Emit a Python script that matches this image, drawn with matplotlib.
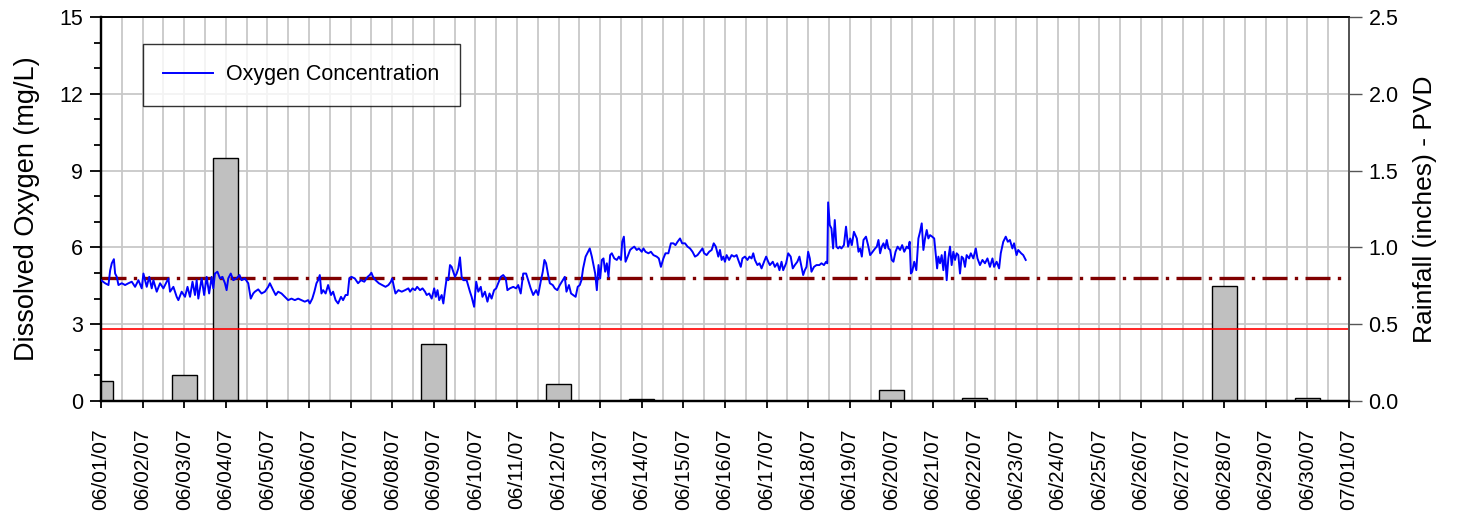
# dissolved oxygen vs rainfall, June 2007
import pandas as pd
import matplotlib
matplotlib.use('Agg')
import matplotlib.pyplot as plt
import matplotlib.dates as mdates
from matplotlib.ticker import MultipleLocator, FormatStrFormatter

plt.rcParams['font.family'] = ['Liberation Sans', 'DejaVu Sans']

start = pd.Timestamp('2007-06-01')

# daily rainfall at PVD (inches)
rain_dates = ['2007-06-01', '2007-06-03', '2007-06-04', '2007-06-09', '2007-06-12',
              '2007-06-14', '2007-06-20', '2007-06-22', '2007-06-28', '2007-06-30']
rain_in = [0.13, 0.17, 1.58, 0.37, 0.11, 0.01, 0.07, 0.02, 0.75, 0.02]

# oxygen record: days after 06/01/07 00:00 and concentration (mg/L)
do_days = [
    0.00, 0.10, 0.18, 0.22, 0.26, 0.31, 0.34, 0.38, 0.42, 0.50, 0.58, 0.66, 0.74, 0.82, 0.90, 0.98,
    1.02, 1.10, 1.16, 1.22, 1.26, 1.34, 1.42, 1.50, 1.58, 1.62, 1.66, 1.74, 1.82, 1.86, 1.94, 2.02,
    2.08, 2.14, 2.20, 2.26, 2.30, 2.34, 2.42, 2.48, 2.54, 2.60, 2.66, 2.70, 2.74, 2.80, 2.86, 2.92,
    2.98, 3.02, 3.06, 3.12, 3.18, 3.26, 3.33, 3.38, 3.46, 3.54, 3.60, 3.66,
    3.70, 3.78, 3.86, 3.94, 4.02, 4.06, 4.14, 4.20, 4.26, 4.34, 4.42, 4.50, 4.58, 4.66, 4.74, 4.82,
    4.90, 4.98, 5.02, 5.08, 5.13, 5.18, 5.22, 5.26, 5.30, 5.34, 5.40, 5.46, 5.53, 5.58, 5.64, 5.70,
    5.77, 5.82, 5.88, 5.93, 5.97, 6.02, 6.10, 6.18, 6.25, 6.33, 6.41, 6.46, 6.50, 6.54, 6.60, 6.68,
    6.76, 6.84, 6.91, 6.97, 7.00, 7.05, 7.08, 7.15, 7.23, 7.31, 7.39,
    7.43, 7.49, 7.55, 7.60, 7.67, 7.73, 7.79, 7.83, 7.89, 7.95, 8.01, 8.05, 8.09, 8.13, 8.19, 8.23,
    8.27, 8.31, 8.35, 8.39, 8.43, 8.47, 8.51, 8.55, 8.59, 8.63, 8.67, 8.71, 8.79, 8.87, 8.91, 8.97,
    9.02, 9.07, 9.13, 9.17, 9.23, 9.29, 9.34, 9.39, 9.45, 9.50, 9.55, 9.61, 9.67, 9.73, 9.77, 9.83,
    9.91, 9.98, 10.03, 10.09, 10.15, 10.22, 10.27, 10.33, 10.39, 10.46, 10.51, 10.57, 10.62, 10.66,
    10.70, 10.75, 10.79, 10.86, 10.91, 10.97, 11.03, 11.10,
    11.15, 11.19, 11.25, 11.30, 11.35, 11.41, 11.46, 11.51, 11.55, 11.59, 11.65, 11.71, 11.75, 11.80,
    11.84, 11.88, 11.92, 11.96, 12.00, 12.04, 12.08, 12.12, 12.16, 12.20, 12.24, 12.28, 12.34, 12.40,
    12.45, 12.50, 12.53, 12.57, 12.61, 12.66, 12.72, 12.76, 12.82, 12.88, 12.93, 13.00, 13.04, 13.09,
    13.16, 13.22, 13.28, 13.36, 13.41, 13.46, 13.52, 13.57, 13.64, 13.70, 13.76, 13.81, 13.86, 13.92,
    13.97, 14.04, 14.10, 14.16, 14.22, 14.28, 14.34, 14.40, 14.46, 14.50, 14.56, 14.62, 14.68, 14.73,
    14.78, 14.84,
    14.88, 14.92, 14.96, 15.00, 15.04, 15.10, 15.16, 15.22, 15.28, 15.32, 15.38, 15.42, 15.48, 15.54,
    15.59, 15.64, 15.68, 15.72, 15.78, 15.83, 15.88, 15.94, 15.99, 16.04, 16.08, 16.15, 16.20, 16.26,
    16.31, 16.36, 16.40, 16.47, 16.52, 16.58, 16.63, 16.68, 16.74, 16.79, 16.84, 16.88, 16.92, 16.96,
    17.00, 17.04, 17.08, 17.14, 17.20, 17.27, 17.32, 17.38, 17.43, 17.46, 17.48, 17.52, 17.56, 17.60,
    17.64, 17.68, 17.72, 17.76, 17.80, 17.86, 17.91, 17.96, 18.01, 18.05, 18.10, 18.17, 18.21, 18.25,
    18.29, 18.33, 18.39, 18.44, 18.49, 18.55,
    18.61, 18.65, 18.69, 18.73, 18.77, 18.81, 18.85, 18.89, 18.93, 18.97, 19.01, 19.05, 19.10, 19.15,
    19.21, 19.26, 19.31, 19.37, 19.41, 19.44, 19.47, 19.50, 19.55, 19.60, 19.65, 19.69, 19.73, 19.77,
    19.81, 19.85, 19.89, 19.93, 19.98, 20.03, 20.06, 20.10, 20.13, 20.17, 20.21, 20.25, 20.29, 20.33,
    20.37, 20.41, 20.45, 20.49, 20.53, 20.57, 20.61, 20.65, 20.69, 20.73, 20.77, 20.81, 20.87, 20.91,
    20.97, 21.03, 21.07, 21.13, 21.19, 21.25, 21.31, 21.37, 21.43, 21.47, 21.53, 21.59, 21.63, 21.69,
    21.75, 21.80, 21.85, 21.91, 21.95, 22.01, 22.05, 22.12, 22.17, 22.23,
]
do_mgl = [
    4.72, 4.60, 4.53, 5.10, 5.38, 5.54, 4.98, 4.85, 4.53, 4.60, 4.53, 4.60, 4.66, 4.46, 4.72, 4.40,
    4.98, 4.46, 4.85, 4.40, 4.72, 4.27, 4.60, 4.40, 4.66, 4.79, 4.27, 4.46, 4.07, 3.94, 4.27, 4.07,
    4.46, 4.07, 4.66, 4.14, 4.72, 4.00, 4.79, 4.14, 4.85, 4.20, 4.85, 4.40, 4.98, 5.05, 4.79, 4.85,
    4.60, 4.33, 4.79, 4.98, 4.72, 4.79, 4.92, 4.72, 4.79, 4.60, 4.00, 4.20,
    4.27, 4.36, 4.20, 4.27, 4.46, 4.60, 4.33, 4.14, 4.27, 4.20, 4.07, 3.94, 4.00, 3.94, 4.00, 3.94,
    3.88, 3.94, 3.81, 4.00, 4.27, 4.60, 4.72, 4.92, 4.20, 4.33, 4.20, 4.53, 4.14, 4.27, 3.94, 3.81,
    4.07, 3.94, 4.14, 4.14, 4.79, 4.85, 4.79, 4.60, 4.72, 4.66, 4.85, 4.92, 5.01, 4.85, 4.72, 4.60,
    4.53, 4.46, 4.53, 4.66, 4.79, 4.40, 4.20, 4.33, 4.27, 4.33, 4.40,
    4.27, 4.40, 4.33, 4.46, 4.33, 4.40, 4.27, 4.14, 4.20, 4.00, 4.40, 4.07, 4.33, 3.94, 4.14, 3.81,
    4.33, 4.79, 4.72, 5.31, 5.24, 5.05, 4.85, 4.98, 5.18, 5.61, 4.85, 4.72, 4.72, 4.27, 4.07, 3.68,
    4.66, 4.27, 4.46, 4.07, 4.27, 3.88, 4.20, 4.00, 4.33, 4.40, 4.60, 4.85, 4.92, 4.79, 4.33, 4.40,
    4.46, 4.40, 4.53, 4.20, 4.98, 4.98, 4.72, 4.40, 4.14, 4.33, 4.14, 4.66, 5.05, 5.51,
    5.38, 4.92, 4.60, 4.53, 4.40, 4.33, 4.53, 4.72,
    4.85, 4.27, 4.53, 4.20, 4.14, 4.07, 4.46, 4.53, 4.72, 5.18, 5.64, 5.83, 5.96, 5.64,
    5.31, 4.98, 4.33, 5.31, 4.79, 5.51, 5.57, 5.05, 5.38, 4.85, 5.70, 5.77, 5.57, 5.51,
    5.64, 5.51, 6.22, 6.42, 5.44, 5.64, 5.90, 5.96, 6.03, 5.90, 5.96, 5.83, 5.96, 5.83,
    5.77, 5.83, 5.70, 5.64, 5.57, 5.24, 5.57, 5.77, 5.77, 6.16, 6.16, 6.09, 6.22, 6.35,
    6.16, 6.16, 6.03, 5.96, 5.83, 5.64, 5.70, 5.83, 5.96, 5.77, 5.70, 5.83, 5.90, 6.16,
    6.03, 5.64,
    5.90, 5.51, 5.64, 5.44, 5.70, 5.51, 5.70, 5.64, 5.70, 5.51, 5.24, 5.57, 5.64, 5.51,
    5.64, 5.57, 5.77, 5.51, 5.31, 5.38, 5.18, 5.44, 5.64, 5.44, 5.31, 5.44, 5.24, 5.38,
    5.11, 5.44, 5.11, 5.38, 5.77, 5.64, 5.18, 5.31, 5.44, 5.64, 5.24, 4.92, 5.11, 5.24,
    5.83, 5.57, 5.05, 5.24, 5.31, 5.31, 5.38, 5.31, 5.44, 5.38, 7.76, 6.87, 6.74, 5.96,
    7.07, 6.03, 5.96, 6.03, 5.96, 6.09, 6.81, 6.03, 6.35, 6.09, 6.61, 6.35, 5.83, 5.96,
    5.64, 6.29, 6.42, 6.09, 5.70, 5.83,
    5.96, 6.03, 6.29, 5.77, 6.03, 6.16, 5.96, 6.29, 5.96, 5.90, 5.51, 5.44, 5.83, 6.03,
    5.90, 6.09, 5.83, 6.03, 5.96, 6.22, 4.98, 5.05, 5.44, 5.11, 6.35, 6.61, 6.94, 5.90,
    6.35, 6.68, 6.35, 6.48, 6.42, 6.35, 5.83, 5.18, 5.64, 5.38, 5.70, 5.11, 5.83, 4.72,
    5.57, 6.03, 5.31, 5.83, 5.51, 5.77, 5.70, 4.98, 5.64, 5.57, 5.24, 5.70, 5.57, 5.77,
    5.57, 5.96, 5.57, 5.31, 5.51, 5.38, 5.57, 5.24, 5.57, 5.24, 5.44, 5.18, 5.77, 6.22,
    6.42, 6.22, 6.29, 5.96, 6.16, 5.70, 5.90, 5.77, 5.70, 5.51,
]

# water quality criteria (mg/L)
chronic_do = 4.8
acute_do = 2.8

do_time = start + pd.to_timedelta(do_days, unit='D')
rain_time = pd.to_datetime(rain_dates)

fig = plt.figure(figsize=(14.72, 5.22), dpi=100)
ax_r = fig.add_axes([0.0686, 0.2318, 0.8478, 0.7356])
ax_l = ax_r.twinx()

# rainfall bars on the right axis (drawn first, under the line)
ax_r.bar(rain_time, rain_in, width=0.6, color='#c0c0c0', edgecolor='black',
         linewidth=1.0, zorder=2)
ax_r.set_ylim(0, 2.5)
ax_r.set_xlim(start, start + pd.Timedelta(days=30))
ax_r.yaxis.tick_right()
ax_r.yaxis.set_label_position('right')
ax_r.yaxis.set_major_locator(MultipleLocator(0.5))
ax_r.yaxis.set_major_formatter(FormatStrFormatter('%.1f'))
ax_r.set_ylabel('Rainfall (inches) - PVD', fontsize=19, labelpad=10)

ax_r.xaxis.set_major_locator(mdates.DayLocator())
ax_r.xaxis.set_minor_locator(mdates.HourLocator(byhour=12))
ax_r.xaxis.set_major_formatter(mdates.DateFormatter('%m/%d/%y'))
ax_r.set_axisbelow(True)
ax_r.grid(True, which='both', axis='x', color='#c8c8c8', linewidth=1.3)
ax_r.grid(True, which='major', axis='y', color='#c8c8c8', linewidth=1.3)
ax_r.tick_params(axis='x', which='major', direction='out', length=5, width=1.3,
                 labelsize=15, labelrotation=90, pad=15)
ax_r.tick_params(axis='x', which='minor', length=0)
ax_r.tick_params(axis='y', direction='out', length=9, width=1.0, colors='#555555',
                 labelcolor='black', labelsize=15.5, pad=5)

# oxygen on the left axis
ax_l.yaxis.tick_left()
ax_l.yaxis.set_label_position('left')
ax_l.plot(do_time, do_mgl, color='blue', linewidth=1.4, label='Oxygen Concentration', zorder=3)
ax_l.axhline(chronic_do, color='#800000', linewidth=2.4, dashes=(7.5, 2.2, 1.0, 2.2), zorder=2)
ax_l.axhline(acute_do, color='red', linewidth=1.2, zorder=2)
ax_l.set_ylim(0, 15)
ax_l.yaxis.set_major_locator(MultipleLocator(3))
ax_l.yaxis.set_minor_locator(MultipleLocator(1))
ax_l.tick_params(axis='y', which='major', direction='out', length=8, width=1.3,
                 labelsize=15.5, pad=5)
ax_l.tick_params(axis='y', which='minor', direction='out', length=5, width=1.3)
ax_l.set_ylabel('Dissolved Oxygen (mg/L)', fontsize=19.5, labelpad=14)

for a in (ax_l, ax_r):
    a.spines['left'].set_linewidth(1.6)
    a.spines['bottom'].set_linewidth(1.6)
    a.spines['top'].set_linewidth(1.2)
    a.spines['right'].set_color('#555555')
    a.spines['right'].set_linewidth(1.3)

leg = ax_l.legend(loc='upper left', bbox_to_anchor=(0.0337, 0.930), borderaxespad=0,
                  fontsize=15.5, frameon=True, fancybox=False, handlelength=2.3,
                  handletextpad=0.6, borderpad=0.95)
leg.get_frame().set_edgecolor('black')
leg.get_frame().set_linewidth(1.0)

fig.savefig('out.png', dpi=100)
